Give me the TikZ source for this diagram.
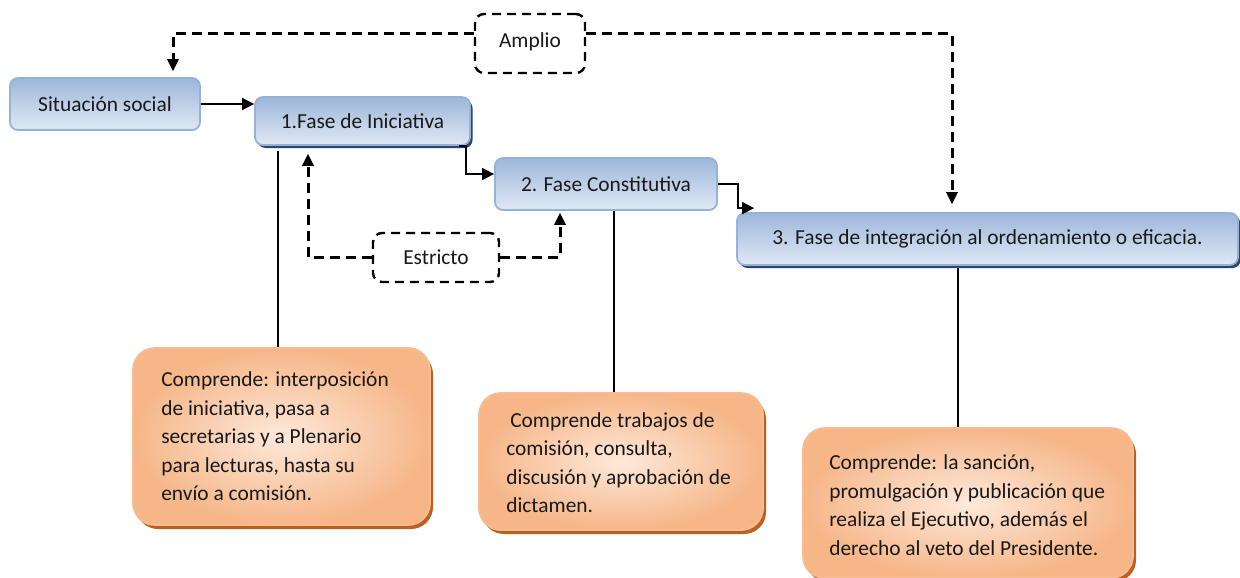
\documentclass[tikz,border=0pt]{standalone}
\usepackage{fontspec}
\setmainfont{Carlito}
\usetikzlibrary{arrows.meta,shadows,calc}
\definecolor{bluedark}{RGB}{156,183,218}
\definecolor{bluelight}{RGB}{224,232,243}
\definecolor{blueborder}{RGB}{149,179,215}
\definecolor{blueshadow}{RGB}{44,70,110}
\definecolor{orgout}{RGB}{246,182,136}
\definecolor{orgin}{RGB}{253,233,219}
\definecolor{orgborder}{RGB}{248,188,144}
\definecolor{orgshadow}{RGB}{188,96,34}
\definecolor{txt}{RGB}{25,25,25}
\tikzset{
  txtfont/.style={font=\fontsize{21.4}{28.5}\selectfont, text=txt},
  phase/.style={txtfont, draw=blueborder, line width=1.8pt, rounded corners=8pt,
    top color=bluedark, bottom color=bluelight, inner sep=0pt},
  phaseshadow/.style={phase, drop shadow={shadow xshift=2.5pt, shadow yshift=-3pt,
    fill=blueshadow, opacity=1}},
  orangebox/.style={draw=orgborder, line width=1.8pt, rounded corners=22pt,
    inner color=orgin, outer color=orgout, inner sep=0pt,
    drop shadow={shadow xshift=3pt, shadow yshift=-4pt, fill=orgshadow, opacity=1}},
  otext/.style={txtfont, align=left, inner sep=0pt, anchor=west},
  dlabel/.style={txtfont, draw=black, line width=2.4pt, dash pattern=on 9pt off 6pt,
    rounded corners=9pt, fill=white, inner sep=0pt},
  conn/.style={line width=1.8pt, draw=black},
  dconn/.style={line width=3pt, draw=black, dash pattern=on 10pt off 6pt},
  arr/.style={-{Triangle[length=12pt,width=12pt]}},
  darr/.style={-{Triangle[length=12pt,width=12pt,line width=0pt]}}
}
\begin{document}
\begin{tikzpicture}[x=1pt,y=-1pt]
\useasboundingbox (0,0) rectangle (1240,578);
\clip (0,0) rectangle (1240,578);
% phase boxes
\node[phase, minimum width=190pt, minimum height=52pt] (sit) at (105,104) {Situación social\hspace{10pt}};
\node[phaseshadow, minimum width=215pt, minimum height=48pt] (f1) at (362.5,121) {1.Fase de Iniciativa};
\node[phase, minimum width=222pt, minimum height=52pt] (f2) at (606,184) {2. Fase Constitutiva};
\node[phaseshadow, minimum width=501pt, minimum height=52pt] (f3) at (987.5,239) {3. Fase de integración al ordenamiento o eficacia.};
% dashed labels
\node[dlabel, minimum width=110pt, minimum height=59pt] (amp) at (530,43.5) {\raisebox{6pt}{Amplio}};
\node[dlabel, minimum width=126pt, minimum height=49pt] (est) at (436,257.5) {Estricto\hspace{10pt}};
% orange boxes
\node[orangebox, minimum width=297pt, minimum height=177pt] (c1) at (281.5,436.5) {};
\node[otext] (t1) at ([xshift=29pt]c1.west) {Comprende: interposición\\de iniciativa, pasa a\\secretarias y a Plenario\\para lecturas, hasta su\\envío a comisión.};
\node[orangebox, minimum width=284pt, minimum height=137pt] (c2) at (621,461.5) {};
\node[otext] (t2) at ([xshift=28pt,yshift=-1pt]c2.west) {\hspace{4pt}Comprende trabajos de\\comisión, consulta,\\discusión y aprobación de\\dictamen.};
\node[orangebox, minimum width=330pt, minimum height=150pt] (c3) at (968,503) {};
\node[otext] (t3) at ([xshift=27pt,yshift=-2pt]c3.west) {Comprende: la sanción,\\promulgación y publicación que\\realiza el Ejecutivo, además el\\derecho al veto del Presidente.};
% solid connectors
\draw[conn, arr] (sit.east) -- (sit.east -| f1.west);
\draw[conn, arr] ([xshift=-12pt]f1.south east) -- ++(7,0) |- ([yshift=10pt]f2.west);
\draw[conn, arr] (f2.east) -- ++(20,0) |- ([xshift=18pt,yshift=4pt]f3.north west);
\draw[conn] ([xshift=-3.5pt]c1.north) -- ([xshift=-3.5pt,yshift=-5pt]c1.north |- f1.south);
\draw[conn] ([xshift=-7pt]c2.north) -- ([xshift=-7pt]c2.north |- f2.south);
\draw[conn] ([xshift=-10pt]c3.north) -- ([xshift=-10pt,yshift=-2pt]c3.north |- f3.south);
% dashed connectors
\draw[dconn, darr] ([yshift=10pt]amp.west) -| ([xshift=68pt,yshift=6pt]sit.north);
\draw[dconn, darr] ([yshift=10pt]amp.east) -| ([xshift=-35.5pt,yshift=8pt]f3.north);
\draw[dconn, darr] (est.west) -| ([xshift=-54.5pt,yshift=-8pt]f1.south);
\draw[dconn, darr] (est.east) -| ([xshift=-46pt,yshift=-2pt]f2.south);
\end{tikzpicture}
\end{document}
